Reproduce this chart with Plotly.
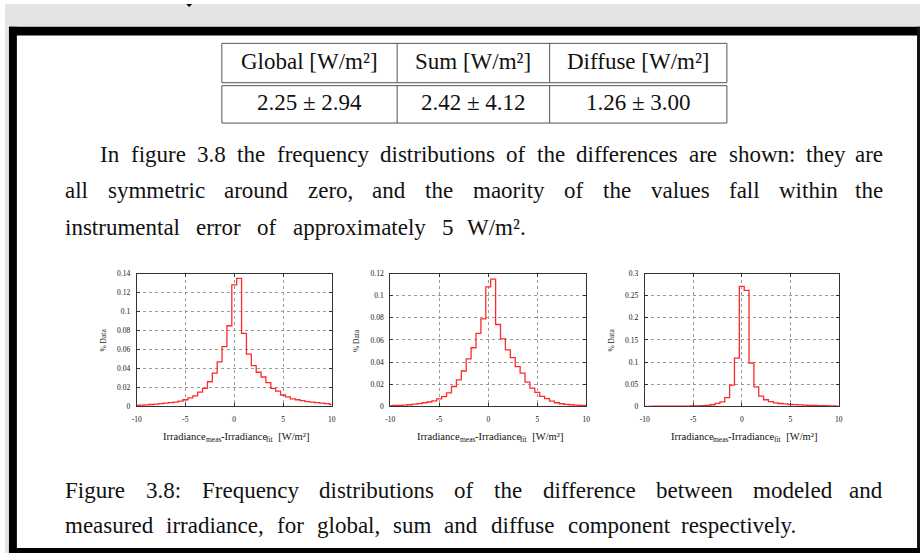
import plotly.graph_objects as go

W, H = 924, 558

# ---------------- data ----------------
bin_centers = [-10, -9.5, -9, -8.5, -8, -7.5, -7, -6.5, -6, -5.5, -5, -4.5, -4, -3.5, -3,
               -2.5, -2, -1.5, -1, -0.5, 0, 0.5, 1, 1.5, 2, 2.5, 3, 3.5, 4, 4.5, 5, 5.5,
               6, 6.5, 7, 7.5, 8, 8.5, 9, 9.5, 10]

global_freq = [0.001, 0.0013, 0.0017, 0.002, 0.0025, 0.003, 0.0035, 0.004, 0.0045, 0.0055,
               0.007, 0.009, 0.011, 0.015, 0.019, 0.026, 0.035, 0.047, 0.063, 0.085,
               0.128, 0.135, 0.077, 0.055, 0.043, 0.036, 0.031, 0.025, 0.019, 0.016,
               0.012, 0.010, 0.008, 0.007, 0.006, 0.005, 0.0045, 0.004, 0.0035, 0.003, 0.002]

sum_freq = [0.0006, 0.0008, 0.001, 0.0012, 0.0015, 0.002, 0.0025, 0.0033, 0.004, 0.005,
            0.0068, 0.0088, 0.0123, 0.018, 0.024, 0.032, 0.043, 0.053, 0.066, 0.079,
            0.108, 0.115, 0.074, 0.061, 0.051, 0.044, 0.036, 0.030, 0.022, 0.0165,
            0.0127, 0.009, 0.007, 0.0047, 0.0033, 0.0024, 0.0019, 0.0015, 0.0012, 0.001, 0.0008]

diffuse_freq = [0.0002, 0.0002, 0.0003, 0.0003, 0.0004, 0.0004, 0.0005, 0.0006, 0.0007, 0.0008,
                0.001, 0.0012, 0.0015, 0.002, 0.0037, 0.0067, 0.0104, 0.02, 0.048, 0.109,
                0.271, 0.262, 0.098, 0.044, 0.023, 0.015, 0.011, 0.008, 0.0065, 0.0055,
                0.0045, 0.004, 0.0035, 0.003, 0.0025, 0.002, 0.0018, 0.0015, 0.0012, 0.001, 0.0008]

x_tickvals = [-10, -5, 0, 5, 10]
x_ticktext = ["-10", "-5", "0", "5", "10"]
y1_tickvals = [0, 0.02, 0.04, 0.06, 0.08, 0.1, 0.12, 0.14]
y1_ticktext = ["0", "0.02", "0.04", "0.06", "0.08", "0.1", "0.12", "0.14"]
y2_tickvals = [0, 0.02, 0.04, 0.06, 0.08, 0.1, 0.12]
y2_ticktext = ["0", "0.02", "0.04", "0.06", "0.08", "0.1", "0.12"]
y3_tickvals = [0, 0.05, 0.1, 0.15, 0.2, 0.25, 0.3]
y3_ticktext = ["0", "0.05", "0.1", "0.15", "0.2", "0.25", "0.3"]

table_header = ["Global [W/m²]", "Sum [W/m²]", "Diffuse [W/m²]"]
table_values = ["2.25 ± 2.94", "2.42 ± 4.12", "1.26 ± 3.00"]

paragraph_lines = [
    "In figure 3.8 the frequency distributions of the differences are shown: they are",
    "all symmetric around zero, and the maority of the values fall within the",
    "instrumental error of approximately 5 W/m².",
]
caption_lines = [
    "Figure 3.8: Frequency distributions of the difference between modeled and",
    "measured irradiance, for global, sum and diffuse component respectively.",
]
# x-axis title pieces: (text, is_subscript)
x_title_parts = [("Irradiance", False), ("meas", True), ("-Irradiance", False),
                 ("fit", True), ("\u00a0\u00a0[W/m²]", False)]
y_title = "% Data"

# ---------------- helpers ----------------
def px(x):
    return x / W

def py(y):
    return 1 - y / H

SERIF = "'Liberation Serif', 'Times New Roman', Tinos, 'DejaVu Serif', serif"
TXT = "#111111"
BODY = 23

# Times-compatible advance widths (per 1000 em) for text layout
ADV = {'a': 444, 'b': 500, 'c': 444, 'd': 500, 'e': 444, 'f': 333, 'g': 500, 'h': 500,
       'i': 278, 'j': 278, 'k': 500, 'l': 278, 'm': 778, 'n': 500, 'o': 500, 'p': 500,
       'q': 500, 'r': 333, 's': 389, 't': 278, 'u': 500, 'v': 500, 'w': 722, 'x': 500,
       'y': 500, 'z': 444, 'F': 556, 'I': 333, 'W': 944, 'G': 722, 'S': 556, 'D': 722,
       '.': 250, ',': 250, ':': 278, '/': 278, '[': 333, ']': 333, '-': 333, '²': 300,
       '\u00a0': 250}

def word_width(w, size):
    return sum(ADV.get(ch, 500) for ch in w) * size / 1000.0

fig = go.Figure()

panels = [
    (global_freq, (133, 330), [0, 0.14], y1_tickvals, y1_ticktext),
    (sum_freq, (389, 587), [0, 0.12], y2_tickvals, y2_ticktext),
    (diffuse_freq, (646, 842), [0, 0.3], y3_tickvals, y3_ticktext),
]
plot_top, plot_bot = 274, 409

for i, (vals, (x0, x1), yr, ytv, ytt) in enumerate(panels, start=1):
    sfx = "" if i == 1 else str(i)
    fig.add_trace(go.Scatter(
        x=bin_centers, y=vals, mode="lines", line=dict(color="#ff2a2a", width=1.3, shape="hvh"),
        xaxis="x" + sfx, yaxis="y" + sfx, showlegend=False, hoverinfo="skip", cliponaxis=True))
    axcommon = dict(showline=True, linecolor="#333333", linewidth=1, mirror="ticks",
                    ticks="inside", ticklen=3, tickcolor="#333333", showgrid=True,
                    gridcolor="#9a9a9a", griddash="dot", gridwidth=1, zeroline=False,
                    tickfont=dict(family=SERIF, size=7.5, color="#111111"))
    fig.layout["xaxis" + sfx] = dict(domain=[px(x0), px(x1)], range=[-10, 10],
                                     tickvals=x_tickvals, ticktext=x_ticktext,
                                     anchor="y" + sfx, ticklabelstandoff=6, **axcommon)
    fig.layout["yaxis" + sfx] = dict(domain=[py(plot_bot), py(plot_top)], range=yr,
                                     tickvals=ytv, ticktext=ytt, anchor="x" + sfx,
                                     ticklabelstandoff=4, **axcommon)

annotations = []

def txt(x, y, s, size=BODY, xanchor="left", angle=0, family=SERIF):
    annotations.append(dict(x=px(x), y=py(y), xref="paper", yref="paper", text=s,
                            showarrow=False, xanchor=xanchor, yanchor="middle",
                            textangle=angle, borderpad=0,
                            font=dict(family=family, size=size, color=TXT)))

def justified(line, x_start, x_end, y, size=BODY):
    words = line.split(" ")
    widths = [word_width(w, size) for w in words]
    gap = (x_end - x_start - sum(widths)) / max(len(words) - 1, 1)
    x = x_start
    for k, (w, wd) in enumerate(zip(words, widths)):
        if k == len(words) - 1 and len(words) > 1:
            txt(x_end, y, w, size=size, xanchor="right")
        else:
            txt(x, y, w, size=size)
        x += wd + gap

def title_with_subs(parts, cx, y, size=10.5, sub_size=7.5, sub_drop=3):
    widths = [word_width(t, sub_size if sub else size) for t, sub in parts]
    x = cx - sum(widths) / 2
    for (t, sub), wd in zip(parts, widths):
        txt(x, y + (sub_drop if sub else 0), t, size=sub_size if sub else size)
        x += wd

# axis titles of the small plots
for (x0, x1) in [(133, 330), (389, 587), (646, 842)]:
    title_with_subs(x_title_parts, (x0 + x1) / 2 + 1, 440)
    txt(x0 - 34, 342, y_title, size=7.5, xanchor="center", angle=-90)

# table
col_edges = [219, 396, 550, 729]
for j in range(3):
    cx = (col_edges[j] + col_edges[j + 1]) / 2
    txt(cx, 58, table_header[j], size=23, xanchor="center")
    txt(cx, 100, table_values[j], size=23, xanchor="center")

# paragraph and caption, justified like the typeset page
justified(paragraph_lines[0], 95, 888, 153)
justified(paragraph_lines[1], 60, 888, 190)
justified(paragraph_lines[2], 60, 527, 227)
justified(caption_lines[0], 60, 888, 494)
justified(caption_lines[1], 60, 800, 530)

# page frame shapes
shapes = []
def rect(x0, y0, x1, y1, color):
    shapes.append(dict(type="rect", xref="paper", yref="paper", x0=px(x0), x1=px(x1),
                       y0=py(y1), y1=py(y0), fillcolor=color, line=dict(width=0), layer="below"))
def hline(x0, x1, y, color="#555555", w=1):
    shapes.append(dict(type="line", xref="paper", yref="paper", x0=px(x0), x1=px(x1),
                       y0=py(y), y1=py(y), line=dict(color=color, width=w)))
def vline(x, y0, y1, color="#555555", w=1):
    shapes.append(dict(type="line", xref="paper", yref="paper", x0=px(x), x1=px(x),
                       y0=py(y0), y1=py(y1), line=dict(color=color, width=w)))

rect(0, 0, 924, 23, "#e4e4e4")
rect(0, 23, 4, 558, "#e4e4e4")
rect(4, 23, 924, 32, "#000000")
rect(4, 23, 12, 558, "#000000")
rect(921, 23, 924, 558, "#111111")
rect(4, 553, 924, 558, "#000000")
shapes.append(dict(type="path", xref="paper", yref="paper",
                   path=f"M {px(183)},{py(0)} L {px(189)},{py(0)} L {px(186)},{py(3)} Z",
                   fillcolor="#000000", line=dict(width=0)))

# table lines
hline(219, 729, 40)
hline(219, 729, 80)
hline(219, 729, 83)
hline(219, 729, 121)
for xe in col_edges:
    vline(xe, 40, 80)
    vline(xe, 83, 121)

fig.update_layout(width=W, height=H, margin=dict(l=0, r=0, t=0, b=0),
                  paper_bgcolor="white", plot_bgcolor="white",
                  annotations=annotations, shapes=shapes, showlegend=False)

fig.write_html("out.html", config={"displayModeBar": False})
